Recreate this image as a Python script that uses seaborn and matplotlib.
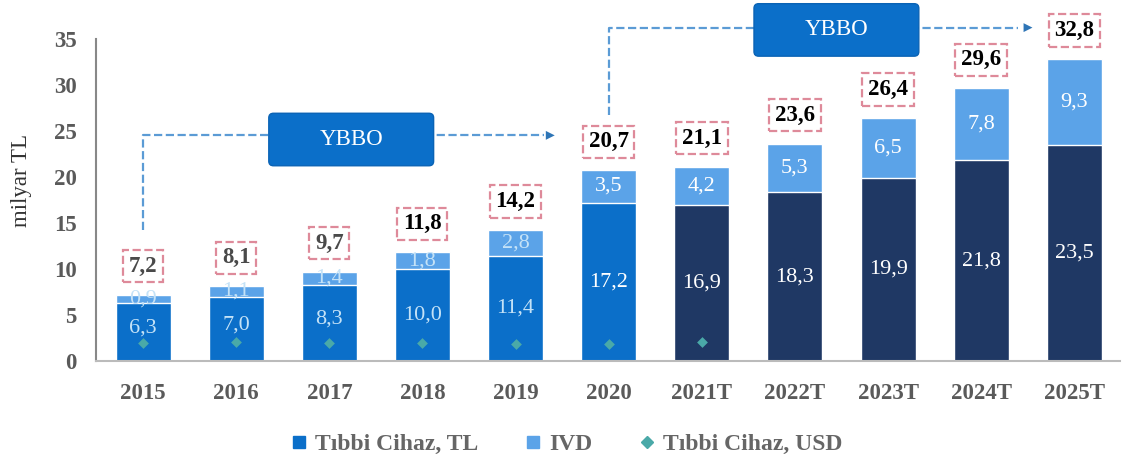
import pandas as pd
import seaborn as sns
import matplotlib.pyplot as plt
from matplotlib.lines import Line2D
from matplotlib.patches import FancyBboxPatch

# data (milyar TL)
years = ['2015', '2016', '2017', '2018', '2019', '2020',
         '2021T', '2022T', '2023T', '2024T', '2025T']
tibbi_tl = [6.3, 7.0, 8.3, 10.0, 11.4, 17.2, 16.9, 18.3, 19.9, 21.8, 23.5]
ivd = [0.9, 1.1, 1.4, 1.8, 2.8, 3.5, 4.2, 5.3, 6.5, 7.8, 9.3]
usd_years = ['2015', '2016', '2017', '2018', '2019', '2020', '2021T']
tibbi_usd = [1.9, 2.1, 2.0, 1.9, 1.8, 1.8, 2.1]
legend_labels = ['Tıbbi Cihaz, TL', 'IVD', 'Tıbbi Cihaz, USD']

C_TL = '#0b6fc9'
C_TL_T = '#1f3864'
C_IVD = '#5ba3e8'
C_USD = '#4aa9a8'
C_DASH = '#5b9bd5'
C_PINK = '#de8a9a'

sns.set_style('white')
plt.rcParams['font.family'] = ['Liberation Serif', 'DejaVu Serif']

df = pd.DataFrame({'yil': years, 'tl': tibbi_tl, 'ivd': ivd})
df['toplam'] = (df.tl + df.ivd).round(1)
bar_cols = [C_TL if not y.endswith('T') else C_TL_T for y in years]

fig = plt.figure(figsize=(11.22, 4.65), dpi=100)
ax = fig.add_axes([0.0856, 0.2237, 0.9126, 0.7763])

# stacked bars: total in IVD colour, TL part drawn on top
sns.barplot(data=df, x='yil', y='toplam', color=C_IVD, saturation=1, width=0.59, ax=ax)
sns.barplot(data=df, x='yil', y='tl', hue='yil', palette=bar_cols, saturation=1,
            width=0.59, legend=False, ax=ax)
sns.stripplot(x=usd_years, y=tibbi_usd, order=years, jitter=False, marker='D',
              color=C_USD, size=5.5, ax=ax, zorder=5)

for i, row in df.iterrows():
    early = i < 5
    lc = '#c4e2f7' if early else 'white'
    ax.text(i, row.tl / 2 + (0.4 if i < 3 else 0), f'{row.tl:.1f}'.replace('.', ','),
            ha='center', va='center', fontsize=16, color=lc)
    ax.text(i, row.tl + row.ivd / 2, f'{row.ivd:.1f}'.replace('.', ','),
            ha='center', va='center', fontsize=16, color=lc)
    ax.text(i, row.toplam + 3.1, f'{row.toplam:.1f}'.replace('.', ','),
            ha='center', va='center', fontsize=16.5, fontweight='bold',
            color='#4a4a4a' if i < 3 else 'black', zorder=6,
            bbox=dict(boxstyle='square,pad=0.25', fc='white', ec=C_PINK, ls='--', lw=1.6))

# YBBO arrows
ax.plot([0, 0, 4.3], [14.2, 24.5, 24.5], ls='--', color=C_DASH, lw=1.6, zorder=2)
ax.annotate('', xy=(4.45, 24.5), xytext=(4.2, 24.5),
            arrowprops=dict(arrowstyle='-|>', color='#2e75b6', mutation_scale=16, lw=0))
ax.plot([5, 5, 9.4], [26.7, 36.2, 36.2], ls='--', color=C_DASH, lw=1.6, zorder=2)
ax.annotate('', xy=(9.58, 36.2), xytext=(9.3, 36.2),
            arrowprops=dict(arrowstyle='-|>', color='#2e75b6', mutation_scale=16, lw=0))

for x0, y0 in [(1.35, 21.2), (6.56, 33.1)]:
    ax.add_patch(FancyBboxPatch((x0, y0), 1.77, 5.7,
                                boxstyle='round,pad=0,rounding_size=0.05',
                                mutation_aspect=10, fc=C_TL, ec='#0a63b5', lw=1, zorder=4))
    ax.text(x0 + 0.885, y0 + 2.85, 'YBBO', ha='center', va='center',
            fontsize=16.5, color='white', zorder=5)

ax.set_xlim(-0.505, 10.49)
ax.set_ylim(0, 39.2)
ax.set_yticks(range(0, 36, 5))
ax.set_xlabel('')
ax.set_ylabel('milyar TL', fontsize=16.5, color='#333333', labelpad=16)
ax.set_xticks([i + 0.5 for i in range(10)], minor=True)
ax.tick_params(axis='x', which='major', length=0, pad=16)
ax.tick_params(axis='x', which='minor', length=5, color='#aaaaaa', direction='out')
ax.tick_params(axis='y', length=6, color='#888888', direction='out', pad=8)
for lab in ax.get_xticklabels() + ax.get_yticklabels():
    lab.set_fontweight('bold')
    lab.set_fontsize(16.5)
    lab.set_color('#5a5a5a')

sns.despine(ax=ax, top=True, right=True)
ax.spines['left'].set_bounds(0, 35)
ax.spines['left'].set_color('#888888')
ax.spines['left'].set_linewidth(1.5)
ax.spines['bottom'].set_color('#bbbbbb')
ax.spines['bottom'].set_linewidth(1.5)

handles = [Line2D([], [], ls='', marker='s', markersize=8, color=C_TL),
           Line2D([], [], ls='', marker='s', markersize=8, color=C_IVD),
           Line2D([], [], ls='', marker='D', markersize=6, color=C_USD)]
leg = fig.legend(handles, legend_labels, loc='lower center', bbox_to_anchor=(0.505, -0.025),
                 ncol=3, frameon=False, handlelength=0.7, handletextpad=0.3,
                 columnspacing=2.0, prop={'weight': 'bold', 'size': 17})
for t in leg.get_texts():
    t.set_color('#666666')

fig.savefig('out.png', dpi=100)
